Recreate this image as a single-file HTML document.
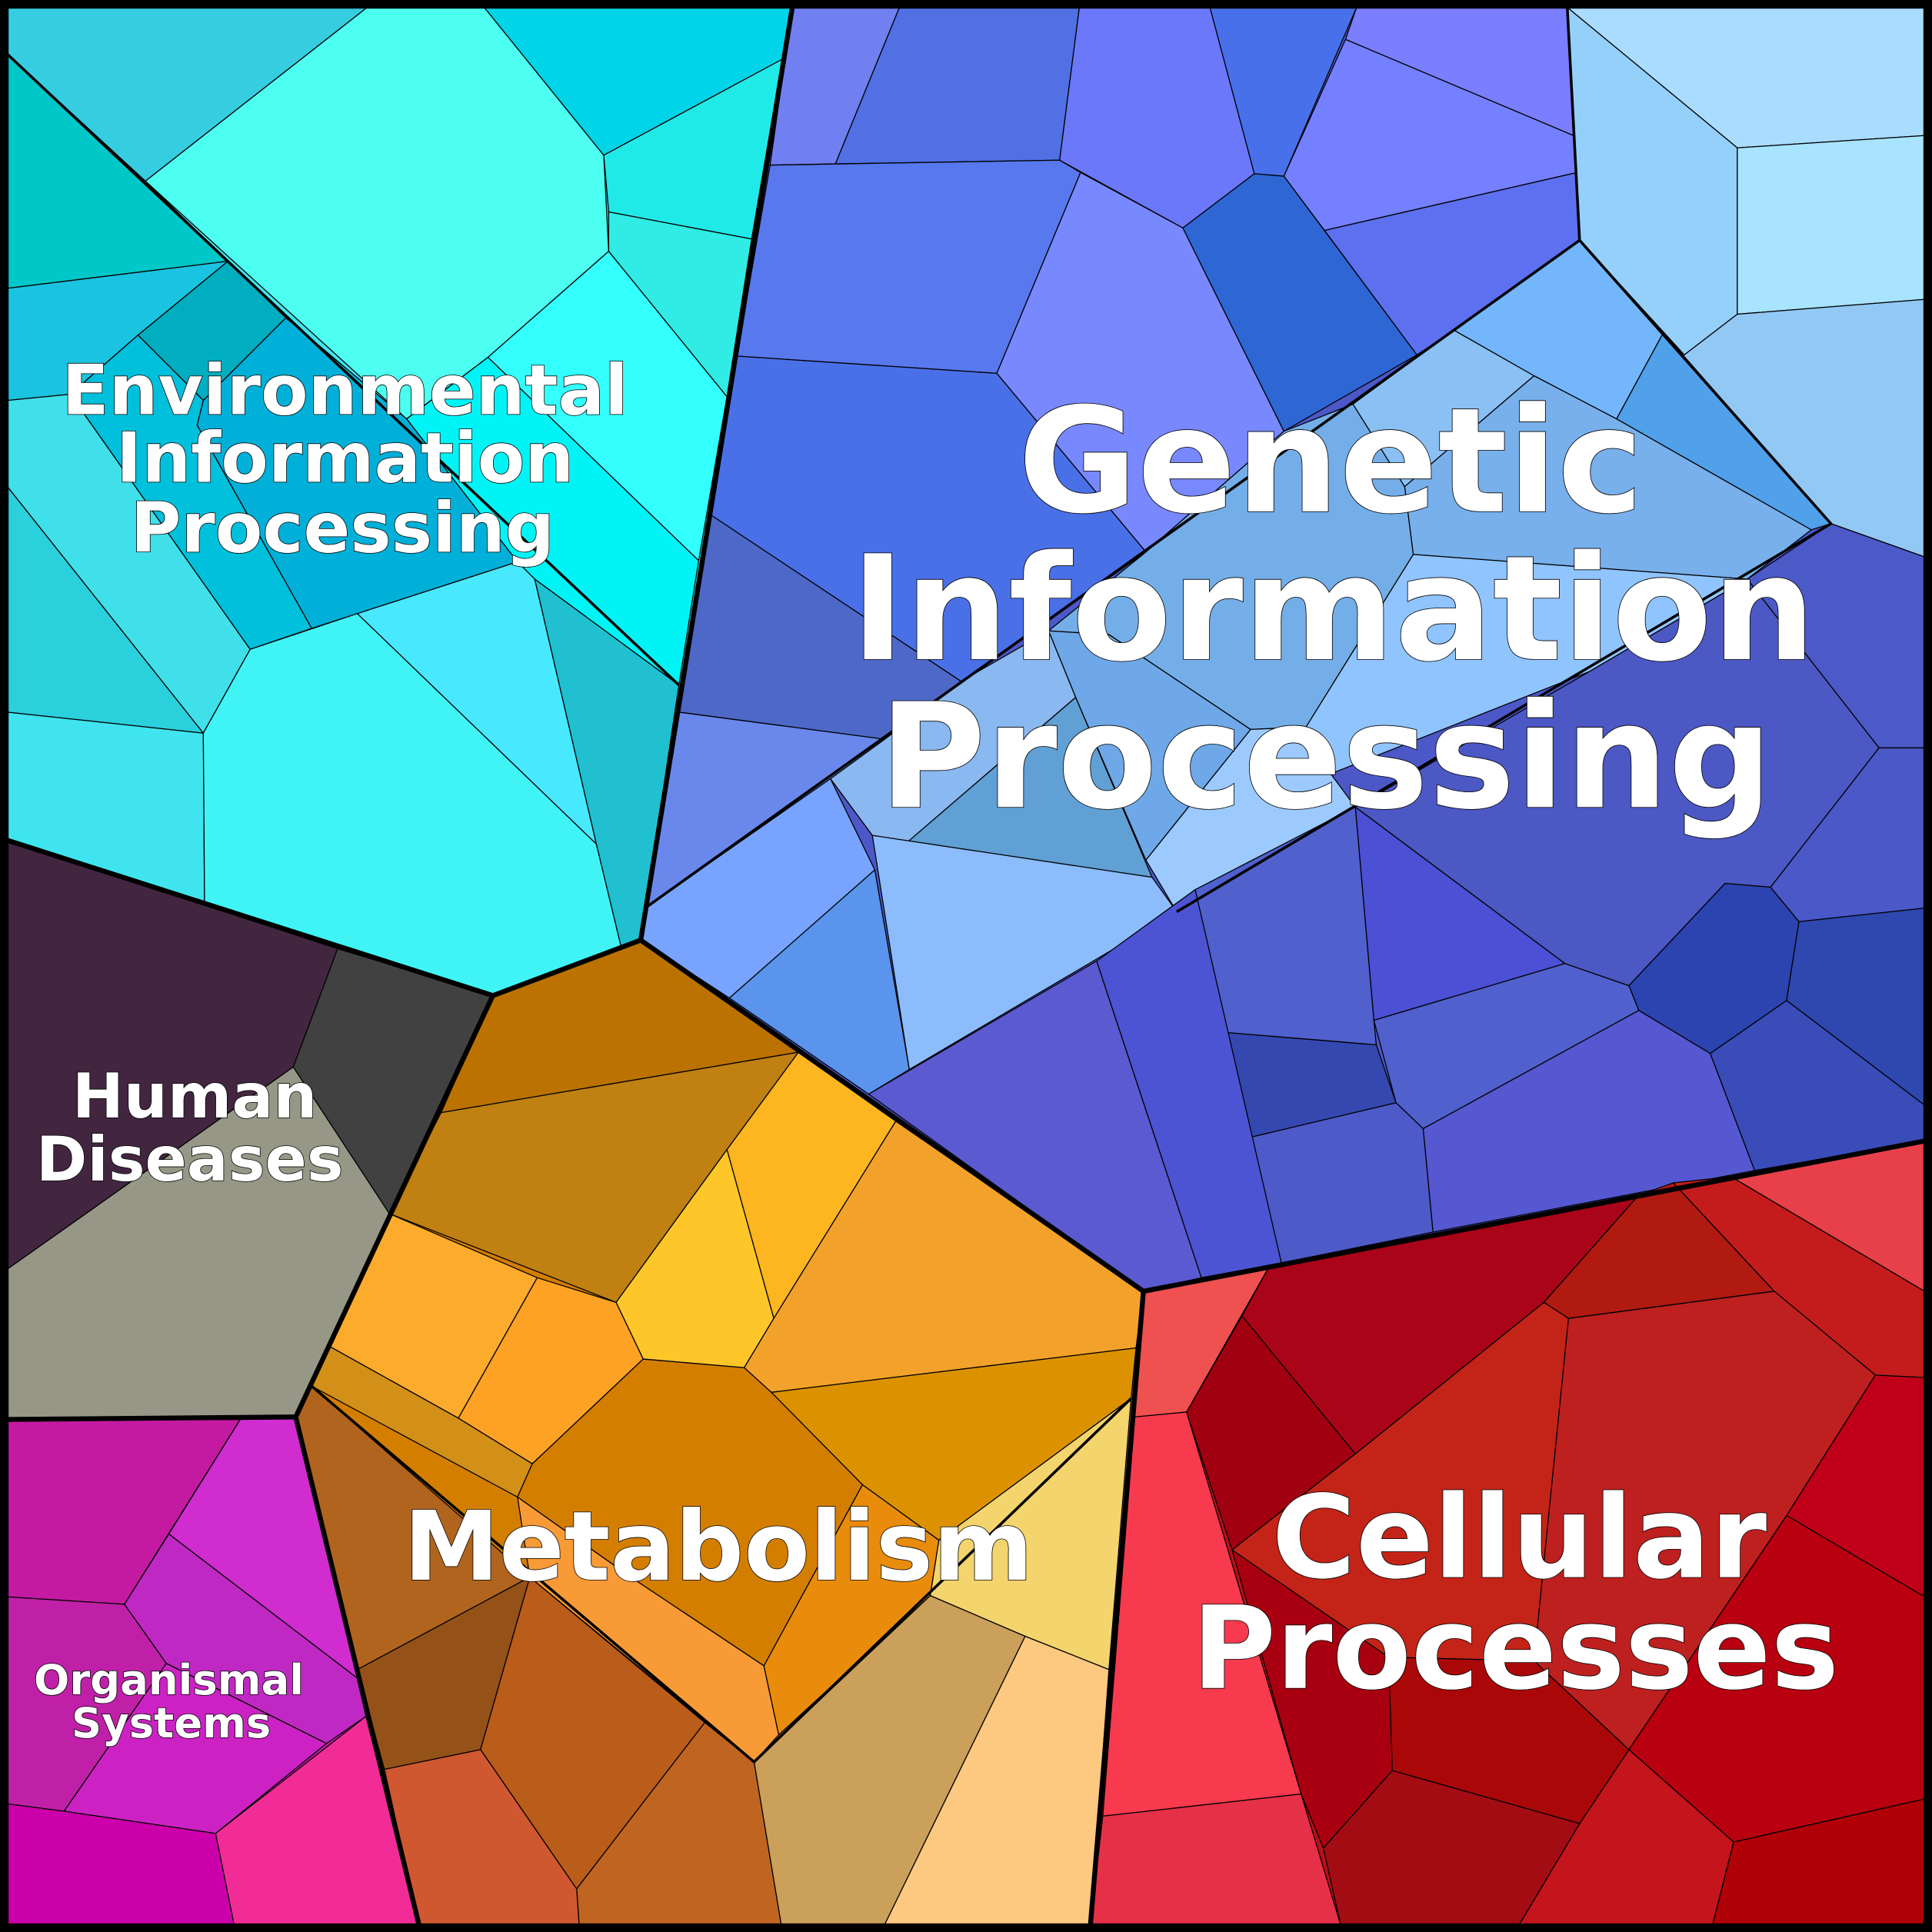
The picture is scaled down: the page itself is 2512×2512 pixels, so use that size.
<!DOCTYPE html>
<html><head><meta charset="utf-8"><style>html,body{margin:0;padding:0;background:#fff}svg{display:block}
text{font-family:"DejaVu Sans","Liberation Sans",sans-serif;font-weight:bold;fill:#fff;stroke:#000;stroke-width:1;paint-order:stroke;text-anchor:middle}</style></head>
<body>
<svg xmlns="http://www.w3.org/2000/svg" width="2512" height="2512" viewBox="0 0 1568 1568">
<!-- base fills -->
<g stroke="none">
<polygon fill="#40e8f0" points="6,6 643,6 520,763 400,808 6,682"/>
<polygon fill="#4c58c8" points="643,6 1562,6 1562,926 1040,1025 928,1048 520,763"/>
<polygon fill="#979787" points="6,682 400,808 316,985 240,1150 6,1152"/>
<polygon fill="#c020a8" points="6,1152 240,1150 340,1562 6,1562"/>
<polygon fill="#d47e00" points="400,808 520,763 928,1048 885,1562 340,1562 240,1150 316,985"/>
<polygon fill="#b81018" points="928,1048 1562,926 1562,1562 885,1562"/>
</g>
<g stroke="#000" stroke-width="0.8" stroke-linejoin="round">
<!-- Environmental -->
<polygon fill="#36cde0" points="6,6 298,6 118,147 6,44"/>
<polygon fill="#4dfff0" points="298,6 393,6 490,126 494,204 396,290 330,340 118,147"/>
<polygon fill="#00d4e8" points="393,6 643,6 635,48 490,126"/>
<polygon fill="#20eae8" points="490,126 635,48 610,194 494,172"/>
<polygon fill="#30ece4" points="494,172 610,194 590,322 494,204"/>
<polygon fill="#33ffff" points="494,204 590,322 567,455 396,290"/>
<polygon fill="#00f4f6" points="396,290 567,455 551,556 434,470 420,456 330,340"/>
<polygon fill="#00c8c8" points="6,44 118,147 185,212 6,234"/>
<polygon fill="#1ac4e0" points="6,234 185,212 112,272 57,320 6,325"/>
<polygon fill="#00aec0" points="112,272 185,212 232,258 165,325"/>
<polygon fill="#40e0ea" points="6,325 57,320 203,527 165,595 6,395"/>
<polygon fill="#00c0dc" points="57,320 112,272 165,325 160,345 253,510 203,527"/>
<polygon fill="#00b0d8" points="165,325 232,258 330,340 420,456 290,498 253,510 160,345"/>
<polygon fill="#2ad0dc" points="6,395 165,595 6,578"/>
<polygon fill="#40e4ee" points="6,578 165,595 166,732 6,682"/>
<polygon fill="#40f4f6" points="165,595 203,527 290,498 484,685 504,768 400,808 166,732"/>
<polygon fill="#48e8ff" points="290,498 420,456 434,470 484,685"/>
<polygon fill="#20c0d0" points="434,470 551,556 520,763 504,768 484,685"/>
<!-- Genetic -->
<polygon fill="#7080f0" points="643,6 730,6 678,133 625,134"/>
<polygon fill="#5070e4" points="730,6 876,6 860,130 678,133"/>
<polygon fill="#6c78fa" points="876,6 982,6 1018,141 960,185 860,130"/>
<polygon fill="#4870ea" points="982,6 1101,6 1042,143 1018,141"/>
<polygon fill="#7a7eff" points="1101,6 1272,6 1277,110 1092,32"/>
<polygon fill="#7480ff" points="1092,32 1277,110 1280,140 1075,187 1042,143"/>
<polygon fill="#5878ee" points="625,134 860,130 877,140 809,303 598,289"/>
<polygon fill="#7888ff" points="877,140 960,185 1042,350 930,448 809,303"/>
<polygon fill="#2e66d4" points="960,185 1018,141 1042,143 1150,288 1042,350"/>
<polygon fill="#5c70f0" points="1075,187 1280,140 1282,195 1180,268 1150,288"/>
<polygon fill="#4a70e8" points="598,289 809,303 930,448 780,553 577,418"/>
<polygon fill="#4e68c8" points="577,418 780,553 718,600 551,578"/>
<polygon fill="#6a88ec" points="551,578 718,600 674,632 525,736"/>
<polygon fill="#74b6fc" points="1180,268 1282,195 1350,270 1312,340 1245,305"/>
<polygon fill="#50a0ea" points="1312,340 1350,270 1486,425 1470,430"/>
<polygon fill="#8ac0f4" points="1098,328 1180,268 1245,305 1140,395"/>
<polygon fill="#78b0ec" points="1140,395 1245,305 1312,340 1470,430 1418,470 1147,450"/>
<polygon fill="#74aee8" points="930,448 1042,350 1098,328 1140,395 1147,450 1060,590 1015,592 900,515 851,512"/>
<polygon fill="#90c4ff" points="1147,450 1418,470 1290,545 1080,628 1060,590"/>
<polygon fill="#9ccaff" points="1060,590 1080,628 1100,655 955,740 930,698 1015,592"/>
<polygon fill="#6ea8e8" points="851,512 900,515 1015,592 930,698 873,566"/>
<polygon fill="#8ab8f0" points="780,553 851,512 873,566 737,683 708,678 674,632 718,600"/>
<polygon fill="#60a0d4" points="737,683 873,566 935,712"/>
<polygon fill="#78a4ff" points="525,736 674,632 710,706 592,810 520,763"/>
<polygon fill="#5a94ec" points="592,810 710,706 738,868 705,888"/>
<polygon fill="#8cbcfc" points="708,678 935,712 955,740 738,868"/>
<polygon fill="#aadcff" points="1272,6 1562,6 1562,110 1410,120"/>
<polygon fill="#94d0fa" points="1272,6 1410,120 1410,255 1367,288 1282,195 1277,110"/>
<polygon fill="#a8e4ff" points="1410,120 1562,110 1562,243 1410,255"/>
<polygon fill="#92c8f4" points="1367,288 1410,255 1562,243 1562,452 1486,425 1350,270"/>
<polygon fill="#4c5ac8" points="1418,470 1486,425 1562,452 1562,607 1525,607"/>
<polygon fill="#4c58c4" points="1100,655 1290,545 1418,470 1525,607 1437,720 1400,717 1322,800 1270,782"/>
<polygon fill="#2c44b0" points="1400,717 1437,720 1460,748 1450,812 1388,855 1330,820 1322,800"/>
<polygon fill="#4a58c8" points="1437,720 1525,607 1562,607 1562,737 1460,748"/>
<polygon fill="#2e48b0" points="1460,748 1562,737 1562,897 1450,812"/>
<polygon fill="#3a4cb8" points="1388,855 1450,812 1562,897 1562,926 1424,950"/>
<polygon fill="#5558d0" points="1155,916 1330,820 1388,855 1424,950 1163,1000"/>
<polygon fill="#5060cc" points="1115,828 1270,782 1322,800 1330,820 1155,916 1133,895"/>
<polygon fill="#4c50d4" points="1100,655 1270,782 1115,828"/>
<polygon fill="#5060cc" points="970,722 1100,655 1115,828 1117,848 995,838"/>
<polygon fill="#3448b0" points="995,838 1117,848 1133,895 1015,923"/>
<polygon fill="#4e5ac8" points="1015,923 1133,895 1155,916 1163,1000 1040,1025"/>
<polygon fill="#4c54d4" points="890,780 970,722 1040,1025 975,1037"/>
<polygon fill="#5c5ad0" points="705,888 890,780 975,1037 928,1048"/>
<!-- Human diseases -->
<polygon fill="#422640" points="6,682 274,770 238,866 6,1030"/>
<polygon fill="#414141" points="274,770 400,808 316,985 238,866"/>
<polygon fill="#979787" points="6,1030 238,866 316,985 240,1150 6,1152"/>
<!-- Organismal -->
<polygon fill="#c41aa2" points="6,1152 195,1152 101,1302 6,1296"/>
<polygon fill="#d02cd0" points="195,1152 240,1150 290,1362 137,1245"/>
<polygon fill="#c020a8" points="6,1296 101,1302 135,1350 52,1470 6,1464"/>
<polygon fill="#c028c4" points="101,1302 137,1245 290,1362 297,1393 265,1415 135,1350"/>
<polygon fill="#cc22c4" points="52,1470 135,1350 265,1415 175,1488"/>
<polygon fill="#cc00aa" points="6,1464 52,1470 175,1488 190,1562 6,1562"/>
<polygon fill="#f22c96" points="175,1488 297,1393 340,1562 190,1562"/>
<!-- Metabolism -->
<polygon fill="#bb7200" points="400,808 520,763 648,854 358,903"/>
<polygon fill="#c08012" points="358,903 648,854 590,933 500,1057 316,985"/>
<polygon fill="#fdb520" points="648,854 727,910 628,1070 590,933"/>
<polygon fill="#ffc62a" points="590,933 628,1070 604,1110 522,1103 500,1057"/>
<polygon fill="#f2a22a" points="727,910 928,1048 922,1094 626,1130 604,1110 628,1070"/>
<polygon fill="#dc9200" points="626,1130 922,1094 918,1135 762,1250 700,1205"/>
<polygon fill="#fdab2c" points="316,985 436,1037 372,1151 268,1093"/>
<polygon fill="#fda224" points="436,1037 500,1057 522,1103 432,1188 372,1151"/>
<polygon fill="#d29018" points="268,1093 372,1151 432,1188 420,1215 253,1125"/>
<polygon fill="#d47e00" points="432,1188 522,1103 604,1110 626,1130 700,1205 620,1352 512,1280 420,1215"/>
<polygon fill="#f89a36" points="420,1215 512,1280 620,1352 632,1408 612,1430 430,1280"/>
<polygon fill="#e98c0c" points="620,1352 700,1205 762,1250 755,1295 632,1408"/>
<polygon fill="#f4d46c" points="762,1250 918,1135 900,1355 832,1328 755,1295"/>
<polygon fill="#cba05a" points="612,1430 755,1295 832,1328 718,1562 634,1562"/>
<polygon fill="#fdc880" points="832,1328 900,1355 885,1562 718,1562"/>
<polygon fill="#b0641e" points="240,1150 253,1125 430,1280 290,1355"/>
<polygon fill="#955218" points="290,1355 430,1280 390,1420 312,1436"/>
<polygon fill="#ba5c1a" points="430,1280 572,1398 468,1533 390,1420"/>
<polygon fill="#c06422" points="572,1398 612,1430 634,1562 470,1562 468,1533"/>
<polygon fill="#d05830" points="312,1436 390,1420 468,1533 470,1562 340,1562"/>
<!-- Cellular -->
<polygon fill="#ef5050" points="928,1048 1030,1028 963,1146 921,1150"/>
<polygon fill="#aa0418" points="1030,1028 1330,970 1253,1057 1100,1180 1008,1068"/>
<polygon fill="#b01a10" points="1330,970 1358,960 1440,1048 1273,1070 1253,1057"/>
<polygon fill="#c41c1c" points="1358,960 1405,955 1562,1048 1562,1118 1522,1116 1440,1048"/>
<polygon fill="#e8404a" points="1405,955 1562,926 1562,1048"/>
<polygon fill="#a00010" points="963,1146 1008,1068 1100,1180 1000,1258"/>
<polygon fill="#f83a4e" points="921,1150 963,1146 1056,1456 895,1474"/>
<polygon fill="#e63048" points="895,1474 1056,1456 1088,1562 885,1562"/>
<polygon fill="#c42418" points="1100,1180 1253,1057 1273,1070 1245,1348 1127,1345 1000,1258 1010,1250"/>
<polygon fill="#be2020" points="1273,1070 1440,1048 1522,1116 1450,1230 1322,1420 1245,1348"/>
<polygon fill="#c00018" points="1522,1116 1562,1118 1562,1296 1450,1230"/>
<polygon fill="#b80010" points="1450,1230 1562,1296 1562,1460 1407,1495 1322,1420"/>
<polygon fill="#c4141c" points="1322,1420 1407,1495 1390,1562 1233,1562 1282,1480"/>
<polygon fill="#b00008" points="1407,1495 1562,1460 1562,1562 1390,1562"/>
<polygon fill="#a80010" points="1000,1258 1127,1345 1130,1437 1074,1500 1056,1456"/>
<polygon fill="#aa0808" points="1127,1345 1245,1348 1322,1420 1282,1480 1130,1437"/>
<polygon fill="#a40c14" points="1074,1500 1130,1437 1282,1480 1233,1562 1088,1562"/>
</g>
<g fill="none" stroke="#000" stroke-width="2.2" stroke-linejoin="round">
<polyline points="6,44 551,556"/>
<polyline points="525,736 1282,195 1486,425 955,740"/>
<polyline points="1272,6 1282,195"/>
<polyline points="253,1125 612,1430 918,1135"/>
</g>
<g fill="none" stroke="#000" stroke-width="4" stroke-linejoin="round">
<polyline points="6,682 400,808 520,763 643,6"/>
<polyline points="400,808 240,1150 340,1562"/>
<polyline points="6,1152 240,1150"/>
<polyline points="520,763 928,1048 885,1562"/>
<polyline points="928,1048 1562,926"/>
</g>
<rect x="3.5" y="3.5" width="1561" height="1561" fill="none" stroke="#000" stroke-width="7"/>
<text x="280" y="336" font-size="56">Environmental</text>
<text x="280" y="391" font-size="56">Information</text>
<text x="278" y="448" font-size="56">Processing</text>
<text x="1080" y="415" font-size="118" stroke-width="1.5">Genetic</text>
<text x="1082" y="535" font-size="118" stroke-width="1.5">Information</text>
<text x="1076" y="655" font-size="118" stroke-width="1.5">Processing</text>
<text x="158" y="907" font-size="50">Human</text>
<text x="154" y="958" font-size="50">Diseases</text>
<text x="583" y="1282" font-size="78" stroke-width="1.2">Metabolism</text>
<text x="1233" y="1280" font-size="93" stroke-width="1.5">Cellular</text>
<text x="1230" y="1370" font-size="93" stroke-width="1.5">Processes</text>
<text x="137" y="1375" font-size="34">Organismal</text>
<text x="139" y="1410" font-size="34">Systems</text>
</svg>
</body></html>
